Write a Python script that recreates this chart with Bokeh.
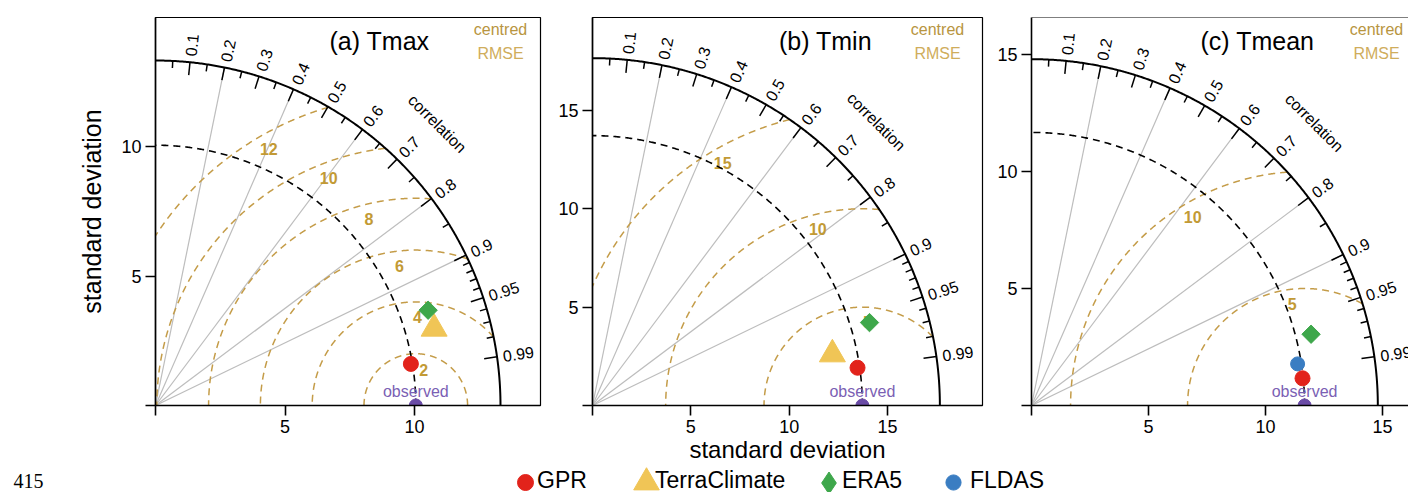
import numpy as np
from bokeh.plotting import figure
from bokeh.layouts import row, column
from bokeh.models import FixedTicker, Label, Legend, LegendItem, Span, Range1d
from bokeh.core.properties import value
from bokeh.embed import file_html
from bokeh.resources import INLINE

# ---------------- data ----------------
panel_titles = ["(a) Tmax", "(b) Tmin", "(c) Tmean"]
observed_std = [10.05, 13.72, 11.67]
axis_max_std = [13.32, 17.66, 14.8]
rmse_levels = [[2, 4, 6, 8, 10, 12], [5, 10, 15], [5, 10]]
std_ticks = [0, 5, 10, 15]
corr_major = [0.1, 0.2, 0.3, 0.4, 0.5, 0.6, 0.7, 0.8, 0.9, 0.95, 0.99]
corr_minor = [0.05, 0.15, 0.25, 0.35, 0.45, 0.55, 0.65, 0.75, 0.85,
              0.91, 0.92, 0.93, 0.94, 0.96, 0.97, 0.98]
corr_lines = [0.2, 0.4, 0.6, 0.8, 0.9]

series = ["GPR", "TerraClimate", "ERA5", "FLDAS"]
gpr_std = [9.99, 13.61, 11.64]
gpr_corr = [0.987, 0.990, 0.995]
terra_std = [11.16, 12.47, None]
terra_corr = [0.964, 0.978, None]
era5_std = [11.15, 14.70, 12.33]
era5_corr = [0.944, 0.958, 0.969]
fldas_std = [None, None, 11.51]
fldas_corr = [None, None, 0.988]

series_std = {"GPR": gpr_std, "TerraClimate": terra_std, "ERA5": era5_std, "FLDAS": fldas_std}
series_corr = {"GPR": gpr_corr, "TerraClimate": terra_corr, "ERA5": era5_corr, "FLDAS": fldas_corr}

# ---------------- styles / layout ----------------
FONT = "Liberation Sans"
GOLD_LINE = "#C49C48"
GOLD_TEXT = "#C29A35"
GRAY = "#BDBDBD"
PURPLE = "#6A4BA6"
PURPLE_TXT = "#7B5FB4"
STYLE = {
    "GPR": dict(marker="circle", color="#E2231B", size=15, angle=0.0,
                leg_marker="circle", leg_box=40, leg_cx=525, leg_tx=537),
    "TerraClimate": dict(marker="triangle", color="#F0C556", size=26, angle=0.0,
                         leg_marker="triangle", leg_box=64, leg_cx=646, leg_tx=655),
    "ERA5": dict(marker="square", color="#3EA74B", size=13, angle=np.pi / 4,
                 leg_marker="diamond", leg_box=55, leg_cx=828, leg_tx=842),
    "FLDAS": dict(marker="circle", color="#3A7DC2", size=14, angle=0.0,
                  leg_marker="circle", leg_box=38, leg_cx=953, leg_tx=970),
}
DRAW_ORDER = ["FLDAS", "TerraClimate", "ERA5", "GPR"]

SCALE = [25.9, 19.67, 23.4]          # pixels per std unit
FIG_W = [550, 440, 418]
B_LEFT = [155, 42, 41]
B_RIGHT = [10, 8, 0]
ROW_H, B_TOP, B_BOT = 466, 17, 61
FRAME_H = ROW_H - B_TOP - B_BOT
RMSE_LABEL_ANGLE = [[77.6, 89, 96.7, 104.1, 110.9, 119.8], [86.5, 104.2, 119.9], [97, 120.7]]
TITLE_X_PX = [224, 233, 226]
F = value(FONT)


def make_panel(i):
    s = SCALE[i]
    fw = FIG_W[i] - B_LEFT[i] - B_RIGHT[i]
    xe, ye = fw / s, FRAME_H / s
    p = figure(width=FIG_W[i], height=ROW_H, x_range=Range1d(0, xe), y_range=Range1d(0, ye),
               toolbar_location=None, output_backend="svg",
               min_border_left=B_LEFT[i], min_border_right=B_RIGHT[i],
               min_border_top=B_TOP, min_border_bottom=B_BOT)
    p.grid.visible = False
    p.outline_line_color = "black" if i < 2 else None
    p.outline_line_width = 1.2
    for ax in (p.xaxis[0], p.yaxis[0]):
        ax.ticker = FixedTicker(ticks=std_ticks)
        ax.major_label_overrides = {0: ""}
        ax.major_tick_out = 10
        ax.major_tick_in = 0
        ax.minor_tick_out = 0
        ax.minor_tick_in = 0
        ax.axis_line_width = 1.6
        ax.major_tick_line_width = 1.6
        ax.major_label_text_font = FONT
        ax.major_label_text_font_size = "18px"
        ax.major_label_text_color = "black"
        ax.major_label_standoff = 4
        ax.axis_label_text_font = FONT
        ax.axis_label_text_font_style = "normal"
        ax.axis_label_text_color = "black"
    if i == 0:
        p.yaxis.axis_label = "standard deviation"
        p.yaxis.axis_label_text_font_size = "25px"
        p.yaxis.axis_label_standoff = 12
    if i == 1:
        p.xaxis.axis_label = "standard deviation"
        p.xaxis.axis_label_text_font_size = "24px"
        p.xaxis.axis_label_standoff = 0
    if i == 2:
        p.add_layout(Span(location=ye, dimension="width", line_color="black", line_width=1.2))

    R = axis_max_std[i]
    obs = observed_std[i]

    # radial correlation lines
    cl = np.array(corr_lines)
    p.segment(x0=np.zeros_like(cl), y0=np.zeros_like(cl), x1=R * cl, y1=R * np.sqrt(1 - cl ** 2),
              line_color=GRAY, line_width=1.2)

    # centred RMSE circles
    phi = np.linspace(0, np.pi, 2000)
    for L in rmse_levels[i]:
        x = obs + L * np.cos(phi)
        y = L * np.sin(phi)
        ok = (x >= 0) & (np.hypot(x, y) <= R)
        p.line(np.where(ok, x, np.nan), np.where(ok, y, np.nan), line_color=GOLD_LINE,
               line_width=1.5, line_dash="7 5")
    lv = np.array(rmse_levels[i], dtype=float)
    ang = np.radians(RMSE_LABEL_ANGLE[i])
    rl = lv - 15 / s
    p.text(x=obs + rl * np.cos(ang), y=rl * np.sin(ang), text=[str(v) for v in rmse_levels[i]],
           text_color=GOLD_TEXT, text_font=F, text_font_size="16px", text_font_style="bold",
           text_align="center", text_baseline="middle")

    # observed std arc and outer arc
    t = np.linspace(0, np.pi / 2, 400)
    p.line(obs * np.cos(t), obs * np.sin(t), line_color="black", line_width=1.6, line_dash="7 5")
    p.line(R * np.cos(t), R * np.sin(t), line_color="black", line_width=2)

    # correlation ticks
    for vals, ln in ((corr_major, 13), (corr_minor, 7)):
        c = np.array(vals)
        sn = np.sqrt(1 - c ** 2)
        r0 = R - ln / s
        p.segment(x0=R * c, y0=R * sn, x1=r0 * c, y1=r0 * sn, line_color="black", line_width=1.5)
    c = np.array(corr_major)
    rr = R + 6 / s
    p.text(x=rr * c, y=rr * np.sqrt(1 - c ** 2), text=[str(v) for v in corr_major],
           angle=np.arccos(c), text_font=F, text_font_size="16px", text_color="black",
           text_align="left", text_baseline="middle")
    rc = 1.155 * R
    p.text(x=[rc * np.cos(np.pi / 4)], y=[rc * np.sin(np.pi / 4)], text=["correlation"],
           angle=-np.pi / 4, text_font=F, text_font_size="16px", text_color="black",
           text_align="center", text_baseline="middle")

    # model points
    for name in DRAW_ORDER:
        sd = series_std[name][i]
        cr = series_corr[name][i]
        if sd is None:
            continue
        st = STYLE[name]
        p.scatter(x=[sd * cr], y=[sd * np.sqrt(1 - cr ** 2)], marker=st["marker"], size=st["size"],
                  angle=st["angle"], fill_color=st["color"], line_color=st["color"])

    # observed point
    p.scatter(x=[obs], y=[0], marker="circle", size=13, fill_color=PURPLE, line_color=PURPLE)
    p.text(x=[obs], y=[0], text=["observed"], y_offset=-14, text_font=F, text_font_size="16px",
           text_color=PURPLE_TXT, text_align="center", text_baseline="middle")

    # title and RMSE key
    p.add_layout(Label(x=TITLE_X_PX[i] / s, y=(FRAME_H - 23) / s, text=panel_titles[i],
                       text_font=FONT, text_font_size="25px", text_color="black",
                       text_align="center", text_baseline="middle"))
    p.add_layout(Label(x=345 / s, y=(FRAME_H - 12) / s, text="centred", text_font=FONT,
                       text_font_size="16px", text_color="#B8953F", text_align="center",
                       text_baseline="middle"))
    p.add_layout(Label(x=345 / s, y=(FRAME_H - 36) / s, text="RMSE", text_font=FONT,
                       text_font_size="16px", text_color="#CFAD5C", text_align="center",
                       text_baseline="middle"))
    return p


panels = [make_panel(i) for i in range(3)]

# ---------------- legend strip ----------------
LEG_H = 492 - ROW_H
LEG_CY = 10  # centre line of the legend, pixels above the strip's bottom
leg = figure(width=1408, height=LEG_H, x_range=Range1d(0, 1), y_range=Range1d(0, 1),
             toolbar_location=None, output_backend="svg", min_border=0,
             x_axis_location=None, y_axis_location=None)
leg.grid.visible = False
leg.outline_line_color = None
common = dict(orientation="horizontal", padding=0, margin=0, spacing=0, border_line_color=None,
              background_fill_alpha=0, label_text_font=FONT, label_text_font_size="23px",
              label_text_color="black", label_standoff=0)
for name in series:
    st = STYLE[name]
    G = st["leg_box"]
    r = leg.scatter(x=[np.nan], y=[np.nan], marker=st["leg_marker"], fill_color=st["color"],
                    line_color=st["color"])
    ghost = leg.scatter(x=[np.nan], y=[np.nan], marker="circle", fill_alpha=0, line_alpha=0)
    # key symbol
    leg.add_layout(Legend(items=[LegendItem(label=" ", renderers=[r])],
                          location=(st["leg_cx"] - G / 2, LEG_CY - G / 2),
                          glyph_width=G, glyph_height=G, label_width=0, **common))
    # key text
    leg.add_layout(Legend(items=[LegendItem(label=name, renderers=[ghost])],
                          location=(st["leg_tx"], LEG_CY - 12),
                          glyph_width=0, glyph_height=24, label_height=24, **common))
leg.add_layout(Label(x=13, y=12, x_units="screen", y_units="screen", text="415",
                     text_font="Liberation Serif", text_font_size="20px", text_color="black",
                     text_baseline="alphabetic"))

layout = column(row(*panels), leg)
open("out.html", "w").write(file_html(layout, INLINE))
